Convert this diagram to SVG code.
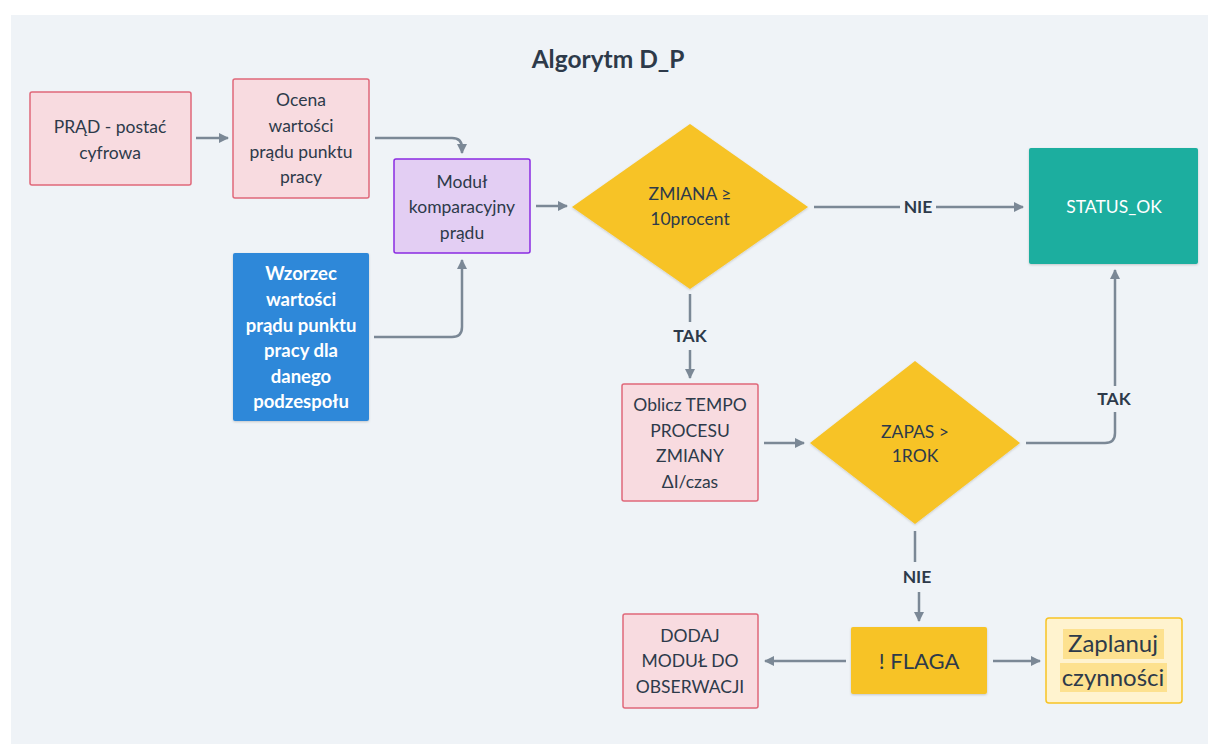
<svg xmlns="http://www.w3.org/2000/svg" width="1208" height="744" viewBox="0 0 1208 744">
  <defs>
    <marker id="arrow" viewBox="0 0 10 10" refX="9" refY="5" markerWidth="4" markerHeight="4" orient="auto" markerUnits="strokeWidth">
      <path d="M0,0 L10,5 L0,10 z" fill="#7b8896"/>
    </marker>
    <filter id="shadow" x="-10%" y="-10%" width="120%" height="130%">
      <feDropShadow dx="0" dy="1" stdDeviation="1.2" flood-color="#000" flood-opacity="0.18"/>
    </filter>
    <style>
      text { font-family: Lato, "Noto Sans", "DejaVu Sans", sans-serif; fill: #2d3a4a; text-anchor: middle; }
      .t { font-size: 17.5px; }
      .w { fill: #ffffff; }
      .b { font-weight: bold; }
      .wb { font-size: 18.5px; font-weight: bold; fill: #ffffff; }
      .lbl { font-size: 17.5px; font-weight: bold; }
      .pink { fill: #f8dbe0; stroke: #e0687a; stroke-width: 1.5; }
      .conn path { fill: none; stroke: #7b8896; stroke-width: 2.5; }
      .lblbg { fill: #eff3f7; }
    </style>
  </defs>

  <!-- canvas -->
  <rect x="0" y="0" width="1208" height="744" fill="#ffffff"/>
  <rect x="11" y="15" width="1197" height="729" fill="#eff3f7"/>

  <text x="608" y="68" class="b" style="font-size:24.5px">Algorytm D_P</text>

  <!-- connectors -->
  <g id="connectors" class="conn">
    <path d="M196,138 H228" marker-end="url(#arrow)"/>
    <path d="M375,138 H452 Q462,138 462,148 V153" marker-end="url(#arrow)"/>
    <path d="M374,337 H452 Q462,337 462,327 V260" marker-end="url(#arrow)"/>
    <path d="M536,206 H567" marker-end="url(#arrow)"/>
    <path d="M814,207 H1023" marker-end="url(#arrow)"/>
    <path d="M690,294 V378" marker-end="url(#arrow)"/>
    <path d="M764,443 H804" marker-end="url(#arrow)"/>
    <path d="M1026,443 H1105 Q1115,443 1115,433 V270" marker-end="url(#arrow)"/>
    <path d="M915,531 V562"/>
    <path d="M919,592 V621" marker-end="url(#arrow)"/>
    <path d="M846,661 H765" marker-end="url(#arrow)"/>
    <path d="M993,661 H1040" marker-end="url(#arrow)"/>
    <!-- edge labels -->
    <rect class="lblbg" x="900" y="196" width="36" height="22"/>
    <text x="918" y="213" class="lbl">NIE</text>
    <rect class="lblbg" x="670" y="322" width="40" height="28"/>
    <text x="690" y="342" class="lbl">TAK</text>
    <rect class="lblbg" x="1094" y="386" width="42" height="26"/>
    <text x="1114" y="405" class="lbl">TAK</text>
    <text x="917" y="583" class="lbl">NIE</text>
  </g>

  <g id="prad">
    <rect class="pink" x="30" y="92" width="161" height="93" rx="2"/>
    <text class="t" x="110" y="133">PRĄD - postać</text>
    <text class="t" x="110" y="159">cyfrowa</text>
  </g>

  <g id="ocena">
    <rect class="pink" x="233" y="79" width="136" height="119" rx="2"/>
    <text class="t" x="301" y="106">Ocena</text>
    <text class="t" x="301" y="132">wartości</text>
    <text class="t" x="301" y="158">prądu punktu</text>
    <text class="t" x="301" y="183">pracy</text>
  </g>

  <g id="modul">
    <rect x="394" y="159" width="136" height="94" rx="2" fill="#e3cef3" stroke="#8a2be2" stroke-width="1.5"/>
    <text class="t" x="462" y="188">Moduł</text>
    <text class="t" x="462" y="213">komparacyjny</text>
    <text class="t" x="462" y="239">prądu</text>
  </g>

  <g id="wzorzec">
    <rect x="233" y="253" width="136" height="168" rx="2" fill="#2d88d9" filter="url(#shadow)"/>
    <text class="wb" x="301" y="280">Wzorzec</text>
    <text class="wb" x="301" y="306">wartości</text>
    <text class="wb" x="301" y="332">prądu punktu</text>
    <text class="wb" x="301" y="357">pracy dla</text>
    <text class="wb" x="301" y="383">danego</text>
    <text class="wb" x="301" y="408">podzespołu</text>
  </g>

  <g id="zmiana">
    <polygon points="690,124 808,207 690,289 572,207" fill="#f7c325" filter="url(#shadow)"/>
    <text class="t" x="690" y="200">ZMIANA ≥</text>
    <text class="t" x="690" y="225">10procent</text>
  </g>

  <g id="status-ok">
    <rect x="1029" y="148" width="169" height="116" rx="2" fill="#1aae9f" filter="url(#shadow)"/>
    <text class="t w" x="1114" y="213">STATUS_OK</text>
  </g>

  <g id="oblicz">
    <rect class="pink" x="622" y="384" width="136" height="117" rx="2"/>
    <text class="t" x="690" y="411">Oblicz TEMPO</text>
    <text class="t" x="690" y="437">PROCESU</text>
    <text class="t" x="690" y="462">ZMIANY</text>
    <text class="t" x="690" y="488">ΔI/czas</text>
  </g>

  <g id="zapas">
    <polygon points="915,361 1020,443 915,524 810,443" fill="#f7c325" filter="url(#shadow)"/>
    <text class="t" x="915" y="438">ZAPAS &gt;</text>
    <text class="t" x="915" y="462">1ROK</text>
  </g>

  <g id="flaga">
    <rect x="851" y="627" width="136" height="67" rx="2" fill="#f7c325" filter="url(#shadow)"/>
    <text x="919" y="669" style="font-size:22px">! FLAGA</text>
  </g>

  <g id="dodaj">
    <rect class="pink" x="623" y="614" width="135" height="94" rx="2"/>
    <text class="t" x="690" y="642">DODAJ</text>
    <text class="t" x="690" y="667">MODUŁ DO</text>
    <text class="t" x="690" y="693">OBSERWACJI</text>
  </g>

  <g id="zaplanuj">
    <rect x="1046" y="618" width="136" height="85" rx="3" fill="#fff3cf" stroke="#f7c325" stroke-width="1.5"/>
    <rect x="1063" y="629" width="101" height="30" fill="#fde18f"/>
    <rect x="1060" y="663" width="107" height="29" fill="#fde18f"/>
    <text x="1113" y="652" style="font-size:24px">Zaplanuj</text>
    <text x="1113" y="686" style="font-size:24px">czynności</text>
  </g>
</svg>
